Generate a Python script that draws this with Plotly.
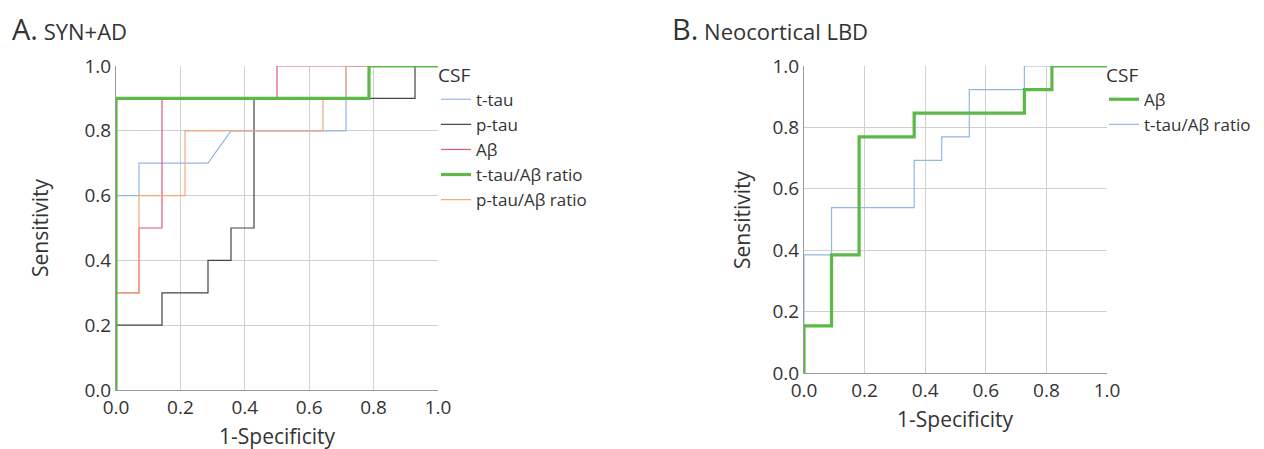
import plotly.graph_objects as go

# ---------- Data ----------
# Panel A: SYN+AD (x = 1-Specificity, y = Sensitivity)
a_ttau_x = [0, 0, 0.0714, 0.0714, 0.2857, 0.3571, 0.7143, 0.7143, 1.0]
a_ttau_y = [0, 0.6, 0.6, 0.7, 0.7, 0.8, 0.8, 1.0, 1.0]

a_ptau_x = [0, 0, 0.1429, 0.1429, 0.2857, 0.2857, 0.3571, 0.3571, 0.4286, 0.4286, 0.9286, 0.9286, 1.0]
a_ptau_y = [0, 0.2, 0.2, 0.3, 0.3, 0.4, 0.4, 0.5, 0.5, 0.9, 0.9, 1.0, 1.0]

a_ab_x = [0, 0, 0.0714, 0.0714, 0.1429, 0.1429, 0.5, 0.5, 1.0]
a_ab_y = [0, 0.3, 0.3, 0.5, 0.5, 0.9, 0.9, 1.0, 1.0]

a_ttau_ab_x = [0, 0, 0.7857, 0.7857, 1.0]
a_ttau_ab_y = [0, 0.9, 0.9, 1.0, 1.0]

a_ptau_ab_x = [0, 0, 0.0714, 0.0714, 0.2143, 0.2143, 0.6429, 0.6429, 0.7143, 0.7143, 1.0]
a_ptau_ab_y = [0, 0.3, 0.3, 0.6, 0.6, 0.8, 0.8, 0.9, 0.9, 1.0, 1.0]

# Panel B: Neocortical LBD
b_ab_x = [0, 0, 0.0909, 0.0909, 0.1818, 0.1818, 0.3636, 0.3636, 0.7273, 0.7273, 0.8182, 0.8182, 1.0]
b_ab_y = [0, 0.1538, 0.1538, 0.3846, 0.3846, 0.7692, 0.7692, 0.8462, 0.8462, 0.9231, 0.9231, 1.0, 1.0]

b_ttau_ab_x = [0, 0, 0.0909, 0.0909, 0.3636, 0.3636, 0.4545, 0.4545, 0.5455, 0.5455, 0.7273, 0.7273, 1.0]
b_ttau_ab_y = [0, 0.3846, 0.3846, 0.5385, 0.5385, 0.6923, 0.6923, 0.7692, 0.7692, 0.9231, 0.9231, 1.0, 1.0]

tick_vals = [0, 0.2, 0.4, 0.6, 0.8, 1.0]
tick_text = ["0.0", "0.2", "0.4", "0.6", "0.8", "1.0"]

# ---------- Styles ----------
C_TTAU = "#8fb8e6"
C_PTAU = "#444444"
C_AB = "#e0577e"
C_GREEN = "#5cb947"
C_ORANGE = "#f4a77a"

FONT = "Open Sans"
TXT = "#333333"
fig = go.Figure()

def add(x, y, name, color, width, xa, ya, legend, rank):
    fig.add_trace(go.Scatter(x=x, y=y, mode="lines", name=name,
                             line=dict(color=color, width=width),
                             xaxis=xa, yaxis=ya, legend=legend, legendrank=rank))

add(a_ttau_x, a_ttau_y, "t-tau", C_TTAU, 1.2, "x", "y", "legend", 1)
add(a_ptau_x, a_ptau_y, "p-tau", C_PTAU, 1.2, "x", "y", "legend", 2)
add(a_ab_x, a_ab_y, "Aβ", C_AB, 1.2, "x", "y", "legend", 3)
add(a_ptau_ab_x, a_ptau_ab_y, "p-tau/Aβ ratio", C_ORANGE, 1.2, "x", "y", "legend", 5)
add(a_ttau_ab_x, a_ttau_ab_y, "t-tau/Aβ ratio", C_GREEN, 3.2, "x", "y", "legend", 4)

add(b_ttau_ab_x, b_ttau_ab_y, "t-tau/Aβ ratio", C_TTAU, 1.2, "x2", "y2", "legend2", 2)
add(b_ab_x, b_ab_y, "Aβ", C_GREEN, 3.2, "x2", "y2", "legend2", 1)

# The page body has an 8px margin, so the figure starts at (8, 8) in the window.
OFF = 8
W, H = 1264 - OFF, 449 - OFF
def px_x(p): return (p - OFF) / W
def px_y(p): return 1 - (p - OFF) / H

axis_common = dict(range=[0, 1.0], tickvals=tick_vals, ticktext=tick_text,
                   showgrid=True, gridcolor="#d0d0d0", gridwidth=1,
                   zeroline=False, showline=True, linecolor="#9a9a9a", linewidth=1.2,
                   ticks="", tickfont=dict(family=FONT, size=19, color=TXT),
                   automargin=False, fixedrange=True)

legend_common = dict(xref="container", yref="container", xanchor="left", yanchor="top",
                     font=dict(size=17, family=FONT, color=TXT),
                     bgcolor="rgba(0,0,0,0)", itemwidth=30, tracegroupgap=0)

def ann(text, x, y, size, angle=0, anchor="center"):
    return dict(text=text, x=px_x(x), y=px_y(y), xref="paper", yref="paper",
                xanchor=anchor, yanchor="middle", showarrow=False, textangle=angle,
                font=dict(size=size, family=FONT, color=TXT))

fig.update_layout(
    width=W, height=H,
    margin=dict(l=0, r=0, t=0, b=0, autoexpand=False),
    paper_bgcolor="white", plot_bgcolor="white",
    font=dict(family=FONT, color=TXT),
    xaxis=dict(domain=[px_x(116), px_x(438)], anchor="y", **axis_common),
    yaxis=dict(domain=[px_y(390), px_y(66)], anchor="x", **axis_common),
    xaxis2=dict(domain=[px_x(804), px_x(1107)], anchor="y2", **axis_common),
    yaxis2=dict(domain=[px_y(373), px_y(66)], anchor="x2", **axis_common),
    legend=dict(x=px_x(436), y=px_y(57),
                title=dict(text="CSF", font=dict(size=19, family=FONT, color=TXT)),
                **legend_common),
    legend2=dict(x=px_x(1104), y=px_y(57),
                 title=dict(text="CSF", font=dict(size=19, family=FONT, color=TXT)),
                 **legend_common),
    annotations=[
        ann("<span style='font-size:29px'>A.</span> SYN+AD", 10, 28, 22, anchor="left"),
        ann("<span style='font-size:29px'>B.</span> Neocortical LBD", 670, 28, 22, anchor="left"),
        ann("Sensitivity", 40, 228, 21, angle=-90),
        ann("1-Specificity", 277, 436, 21),
        ann("Sensitivity", 742, 220, 21, angle=-90),
        ann("1-Specificity", 955, 419, 21),
    ],
)

fig.write_html("out.html")
